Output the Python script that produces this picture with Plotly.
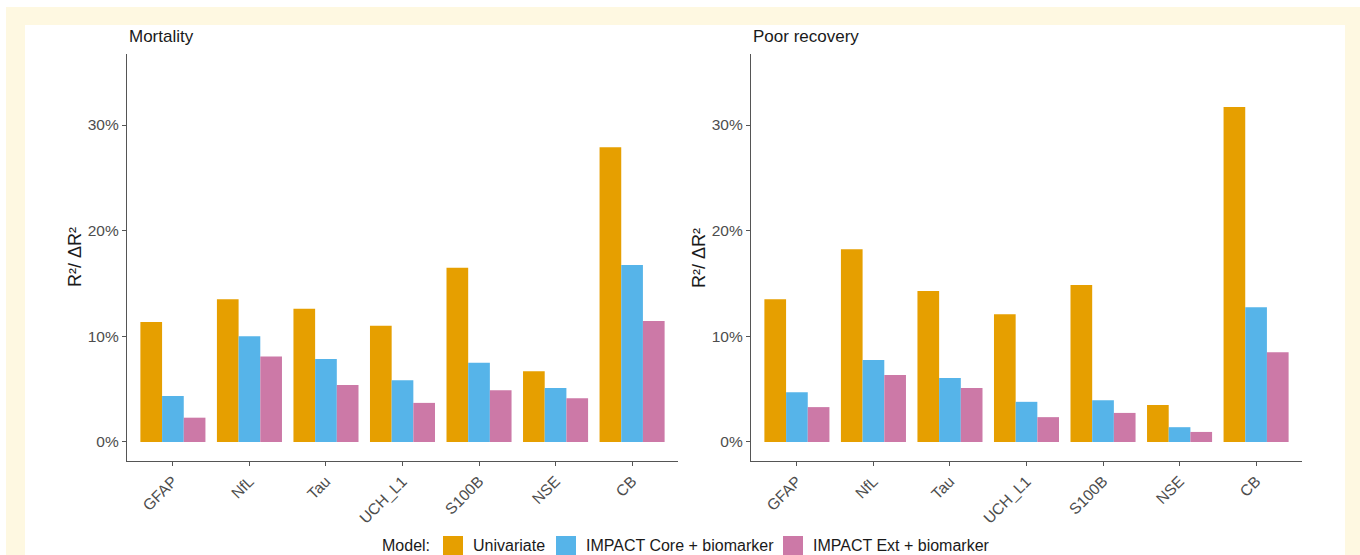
import plotly.graph_objects as go

# Biomarkers on the x axis
biomarkers = ["GFAP", "NfL", "Tau", "UCH_L1", "S100B", "NSE", "CB"]

# Model names and colours
models = ["Univariate", "IMPACT Core + biomarker", "IMPACT Ext + biomarker"]
model_colors = ["#E69F00", "#56B4E9", "#CC79A7"]

# Explained variation (%) for mortality
mortality_univariate = [11.35, 13.5, 12.6, 11.0, 16.5, 6.7, 27.9]
mortality_core = [4.35, 10.0, 7.85, 5.85, 7.5, 5.1, 16.75]
mortality_ext = [2.3, 8.1, 5.4, 3.7, 4.9, 4.15, 11.45]

# Explained variation (%) for poor recovery
recovery_univariate = [13.5, 18.25, 14.3, 12.1, 14.85, 3.5, 31.7]
recovery_core = [4.7, 7.75, 6.05, 3.8, 3.95, 1.4, 12.75]
recovery_ext = [3.3, 6.35, 5.1, 2.35, 2.75, 0.95, 8.5]

panel_titles = ["Mortality", "Poor recovery"]
y_title = "R²/ ΔR²"
y_ticks = [0, 10, 20, 30]
y_tick_labels = [f"{v}%" for v in y_ticks]

W, H = 1360, 555
FONT = "Liberation Sans, Arial, Helvetica, sans-serif"
AXIS_COLOR = "#555555"
TICK_TEXT = "#4D4D4D"


def px_x(p):
    return p / W


def px_y(p):
    return 1 - p / H


fig = go.Figure()

panels = [
    ([mortality_univariate, mortality_core, mortality_ext], "x", "y"),
    ([recovery_univariate, recovery_core, recovery_ext], "x2", "y2"),
]
for series_list, xa, ya in panels:
    for name, color, vals in zip(models, model_colors, series_list):
        fig.add_trace(go.Bar(
            x=biomarkers, y=vals, name=name, xaxis=xa, yaxis=ya,
            marker=dict(color=color, line=dict(width=0)),
            showlegend=False,
        ))

# Panel geometry in pixels
left_x = [(127, 678), (751, 1302)]
plot_top, plot_bottom = 54, 461

axis_common = dict(
    showline=True, linecolor=AXIS_COLOR, linewidth=1.4,
    ticks="outside", ticklen=4, tickwidth=1.1, tickcolor=AXIS_COLOR,
    showgrid=False, zeroline=False, automargin=False,
    tickfont=dict(family=FONT, size=15.5, color=TICK_TEXT),
)

for i, (x0, x1) in enumerate(left_x):
    sx = "" if i == 0 else "2"
    fig.update_layout(**{
        f"xaxis{sx}": dict(
            axis_common,
            domain=[px_x(x0), px_x(x1)],
            anchor=f"y{sx}",
            type="category",
            range=[-0.6, len(biomarkers) - 0.4],
            tickangle=-45,
        ),
        f"yaxis{sx}": dict(
            axis_common,
            domain=[px_y(plot_bottom), px_y(plot_top)],
            anchor=f"x{sx}",
            range=[-1.8, 36.72],
            tickmode="array",
            tickvals=y_ticks,
            ticktext=y_tick_labels,
        ),
    })

shapes = [
    # white card over the cream frame
    dict(type="rect", xref="paper", yref="paper", layer="below",
         x0=px_x(25), x1=px_x(1345), y0=px_y(560), y1=px_y(25),
         fillcolor="white", line=dict(width=0)),
    dict(type="rect", xref="paper", yref="paper", layer="below",
         x0=0, x1=px_x(6), y0=0, y1=1,
         fillcolor="white", line=dict(width=0)),
    dict(type="rect", xref="paper", yref="paper", layer="below",
         x0=0, x1=1, y0=px_y(7), y1=1,
         fillcolor="white", line=dict(width=0)),
]

annotations = []
for i, (x0, x1) in enumerate(left_x):
    annotations.append(dict(
        text=panel_titles[i], xref="paper", yref="paper",
        x=px_x(x0), y=px_y(37), xanchor="left", yanchor="middle",
        showarrow=False, font=dict(family=FONT, size=17, color="#1a1a1a"),
    ))
    annotations.append(dict(
        text=y_title, xref="paper", yref="paper",
        x=px_x(x0 - 51.5), y=px_y((plot_top + plot_bottom) / 2),
        xanchor="center", yanchor="middle", textangle=-90,
        showarrow=False, font=dict(family=FONT, size=18, color="#1a1a1a"),
    ))

# Legend row along the bottom
legend_y = 545
annotations.append(dict(
    text="Model:", xref="paper", yref="paper",
    x=px_x(380), y=px_y(legend_y), xanchor="left", yanchor="middle",
    showarrow=False, font=dict(family=FONT, size=16, color="#1a1a1a"),
))
key_x = [443, 556, 783]
for kx, name, color in zip(key_x, models, model_colors):
    shapes.append(dict(
        type="rect", xref="paper", yref="paper",
        x0=px_x(kx), x1=px_x(kx + 20), y0=px_y(556), y1=px_y(536),
        fillcolor=color, line=dict(width=0),
    ))
    annotations.append(dict(
        text=name, xref="paper", yref="paper",
        x=px_x(kx + 28), y=px_y(legend_y), xanchor="left", yanchor="middle",
        showarrow=False, font=dict(family=FONT, size=16, color="#1a1a1a"),
    ))

fig.update_layout(
    width=W, height=H, autosize=False,
    margin=dict(l=0, r=0, t=0, b=0, pad=0),
    paper_bgcolor="#FEF8E1",
    plot_bgcolor="rgba(0,0,0,0)",
    barmode="group", bargap=0.15, bargroupgap=0,
    shapes=shapes, annotations=annotations,
    font=dict(family=FONT),
    showlegend=False,
)

fig.write_html("out.html")
